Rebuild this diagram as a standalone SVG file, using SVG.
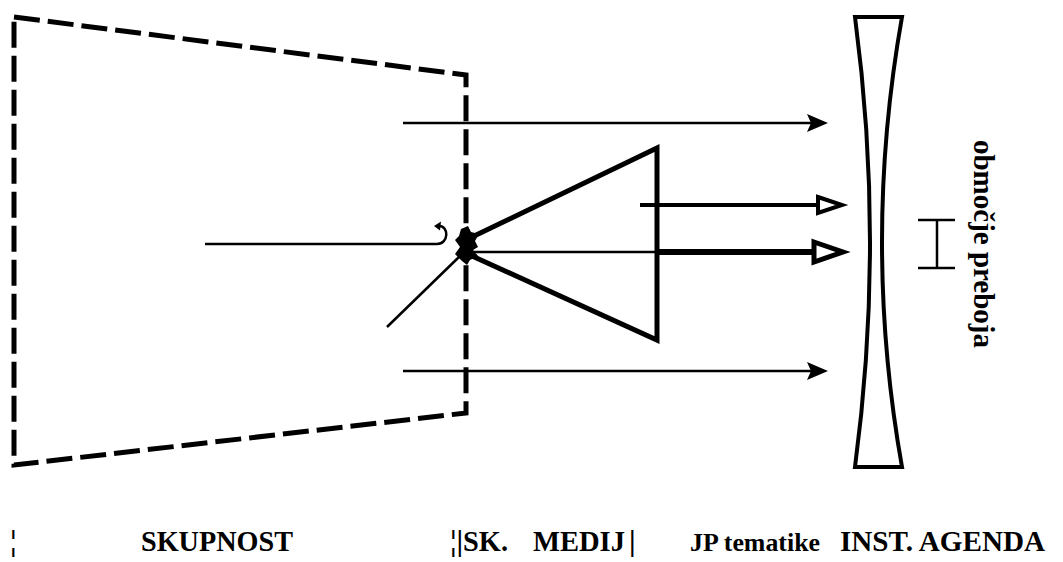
<svg xmlns="http://www.w3.org/2000/svg" width="1063" height="562" viewBox="0 0 1063 562">
<style>
.dash{fill:none;stroke:#000;stroke-width:5;stroke-dasharray:26 8;stroke-linejoin:miter}
.thin{fill:none;stroke:#000;stroke-width:2.5}
.bold{fill:none;stroke:#000;stroke-width:5;stroke-linejoin:miter}
.head{fill:#000;stroke:none}
.open{fill:#fff;stroke:#000;stroke-linejoin:miter}
.lbl{font-family:"Liberation Serif","Times New Roman",serif;font-weight:bold;fill:#000}
</style>
<rect width="1063" height="562" fill="#fff"/>

<!-- community: dashed trapezoid -->
<g id="skupnost">
  <path class="dash" d="M14,17 L466,75 L466,413 L14,465 Z"/>
</g>

<!-- media: cone opening to the right, with the entry point -->
<g id="medij">
  <path class="bold" d="M472,237 L657,148 L657,340 L472,256"/>
  <polygon fill="#000" points="461,229 468,226 471,232 479,234 475,241 478,247 473,250 478,256 470,260 467,265 462,261 455,254 460,247 455,240 459,236"/>
</g>

<!-- institutional agenda: concave lens -->
<g id="agenda">
  <path fill="none" stroke="#000" stroke-width="4" d="M855,17 L902,17 Q862,242 902,467 L855,467 Q885,242 855,17 Z"/>
</g>

<!-- breakthrough range -->
<g id="preboj">
  <path class="thin" d="M918,220 H955 M918,268 H955 M937,220 V268"/>
  <text class="lbl" font-size="30" text-anchor="middle" textLength="208" lengthAdjust="spacingAndGlyphs" transform="translate(974,244) rotate(90)">območje preboja</text>
</g>

<g id="connectors">
  <!-- upper and lower direct flows -->
  <path class="thin" d="M403,123 H812"/>
  <polygon class="head" points="807,114 828,123 807,132 811,123"/>
  <path class="thin" d="M403,371 H812"/>
  <polygon class="head" points="807,362 828,371 807,380 811,371"/>

  <!-- incoming flow with return hook -->
  <path class="thin" d="M205,244 L437,244 C449,244 449,226 439,226"/>
  <polygon class="head" points="434,226 441,221.5 440,230.5"/>

  <!-- oblique input -->
  <path class="thin" d="M387,327 L460,256"/>

  <!-- media outputs -->
  <path fill="none" stroke="#000" stroke-width="4" d="M640,205 H818"/>
  <polygon class="open" stroke-width="4" points="818,197 842,205 818,213"/>
  <path class="thin" d="M470,252 H657"/>
  <path fill="none" stroke="#000" stroke-width="6" d="M657,252 H814"/>
  <polygon class="open" stroke-width="5" points="814,242 843,252 814,262"/>
</g>

<g id="labels" class="lbl" font-size="30">
  <text x="10" y="551">¦</text>
  <text x="141" y="551" textLength="152" lengthAdjust="spacingAndGlyphs">SKUPNOST</text>
  <text x="450" y="551">¦|</text>
  <text x="463" y="551" textLength="45" lengthAdjust="spacingAndGlyphs">SK.</text>
  <text x="533" y="551" textLength="92" lengthAdjust="spacingAndGlyphs">MEDIJ</text>
  <text x="629" y="551">|</text>
  <text x="690" y="551" font-size="26" textLength="130" lengthAdjust="spacingAndGlyphs">JP tematike</text>
  <text x="840" y="551" textLength="205" lengthAdjust="spacingAndGlyphs">INST. AGENDA</text>
</g>
</svg>
